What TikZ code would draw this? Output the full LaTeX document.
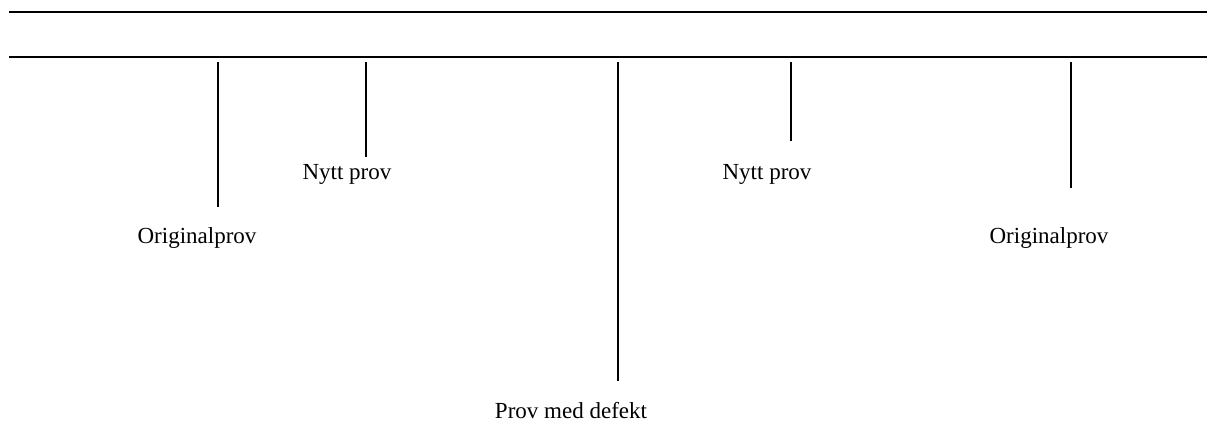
\documentclass[tikz,border=0pt]{standalone}
\usepackage{fontspec}
\setmainfont{Liberation Serif}
\begin{document}
\begin{tikzpicture}[x=1pt,y=-1pt,
  hline/.style={line width=1.3pt,black},
  vline/.style={line width=1.8pt,black},
  lbl/.style={anchor=base,inner sep=0pt,font=\fontsize{23}{26}\selectfont}]
\useasboundingbox (0,0) rectangle (1207,423);
% horizontal rules
\coordinate (t1) at (9,12);  \coordinate (t2) at (1207,12);
\coordinate (b1) at (9,57);  \coordinate (b2) at (1207,57);
\draw[hline] (t1) -- (t2);
\draw[hline] (b1) -- (b2);
% vertical ticks
\coordinate (a1) at (218,62);  \coordinate (a2) at (218,207);
\coordinate (c1) at (366,62);  \coordinate (c2) at (366,157);
\coordinate (d1) at (618,62);  \coordinate (d2) at (618,381);
\coordinate (e1) at (791,62);  \coordinate (e2) at (791,141);
\coordinate (f1) at (1071,62); \coordinate (f2) at (1071,188);
\draw[vline] (a1) -- (a2);
\draw[vline] (c1) -- (c2);
\draw[vline] (d1) -- (d2);
\draw[vline] (e1) -- (e2);
\draw[vline] (f1) -- (f2);
% labels
\node[lbl] (la) at (197,243) {Originalprov};
\node[lbl] (lc) at (347,179) {Nytt prov};
\node[lbl] (ld) at (571,418) {Prov med defekt};
\node[lbl] (le) at (767,179) {Nytt prov};
\node[lbl] (lf) at (1049,243) {Originalprov};
\end{tikzpicture}
\end{document}
